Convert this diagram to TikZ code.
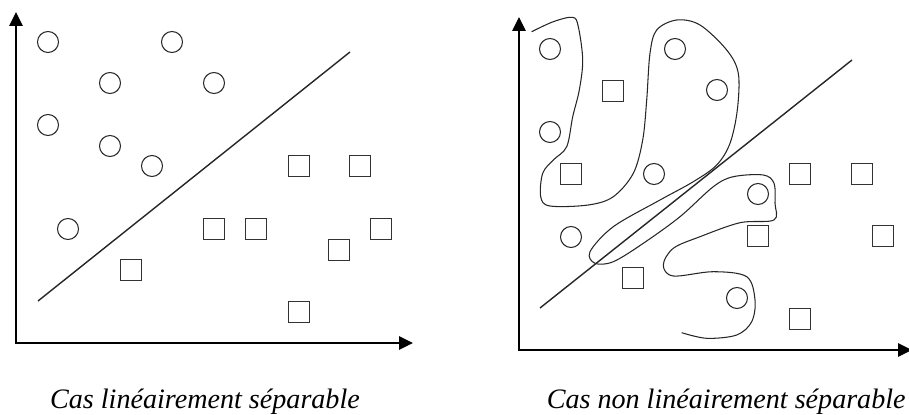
\documentclass[tikz,border=0pt]{standalone}
\usepackage{fontspec}
\setmainfont{Liberation Serif}
\usetikzlibrary{arrows.meta}

\begin{document}
\begin{tikzpicture}[
    x=0.02cm, y=-0.02cm,
    circ/.style={circle, draw=black!85, line width=0.6pt, minimum size=0.42cm, inner sep=0pt},
    sq/.style={rectangle, draw=black!80, line width=0.6pt, minimum size=0.41cm, inner sep=0pt},
    axis/.style={{Triangle[length=0.28cm, width=0.26cm]}-{Triangle[length=0.28cm, width=0.26cm]}, line width=1.5pt, line join=miter},
    sep/.style={line width=0.8pt, draw=black!85},
    front/.style={line width=0.6pt, draw=black!85},
    caption/.style={font=\itshape\fontsize{16}{19}\selectfont, inner sep=0pt}
]
    \useasboundingbox (0,0) rectangle (909,415);

    % linearly separable case
    \coordinate (ly) at (16,12);
    \coordinate (lx) at (413,343);
    \draw [axis] (ly) |- (lx);
    \foreach \px/\py [count=\i] in {48/42, 172/42, 110/83, 214/83, 48/125, 110/146, 152/166, 68/229}
        \node [circ] (lc\i) at (\px,\py) {};
    \foreach \px/\py [count=\i] in {299/166, 360/166, 214/229, 256/229, 381/229, 339/250, 131/270, 299/312}
        \node [sq] (ls\i) at (\px,\py) {};
    \coordinate (la) at (38,301);
    \coordinate (lb) at (350,52);
    \draw [sep] (la) -- (lb);
    \node [caption, anchor=base] (lcap) at (205,408) {Cas linéairement séparable};

    % non linearly separable case
    \coordinate (ry) at (519,17);
    \coordinate (rx) at (912,350);
    \draw [axis] (ry) |- (rx);
    \foreach \px/\py [count=\i] in {550/49, 675/49, 717/90, 550/132, 654/174, 758/194, 571/237, 737/298}
        \node [circ] (rc\i) at (\px,\py) {};
    \foreach \px/\py [count=\i] in {613/91, 571/174, 800/174, 862/174, 758/236, 883/236, 633/278, 800/319}
        \node [sq] (rs\i) at (\px,\py) {};
    \coordinate (ra) at (540,308);
    \coordinate (rb) at (852,60);
    \draw [sep] (ra) -- (rb);
    \draw [front] plot [smooth, tension=0.55] coordinates {
        (531.7,31.7) (553.3,21.7) (572.7,17.3) (578.3,26.7) (582.7,60) (579.3,90)
        (572.7,116.7) (566.7,146.7) (553.3,160) (542.7,173.3) (540.7,196.7) (550,206)
        (588.3,205) (613.3,196.7) (633.3,173.3) (642.7,140) (646.7,100) (650,53.3)
        (656.7,30) (676.7,20) (700,25) (726.7,50) (738.3,73.3) (737.3,110)
        (730,143.3) (716.7,165) (693.3,181.7) (660,200) (613.3,226.7) (590,251.7)
        (595,263.3) (613.3,261.7) (643.3,243.3) (680,216.7) (713.3,186.7) (733.3,176.7)
        (763.3,175) (774,183.3) (775,203.3) (774,220) (740,222.7) (700,236.7)
        (673.3,248.3) (663.3,265) (673.3,276) (713.3,271.7) (746.7,276.7) (755,300)
        (751.7,321.7) (736.7,335) (706.7,338.3) (681.7,332.7)};
    \node [caption, anchor=base east] (rcap) at (906,408) {Cas non linéairement séparable};
\end{tikzpicture}
\end{document}
